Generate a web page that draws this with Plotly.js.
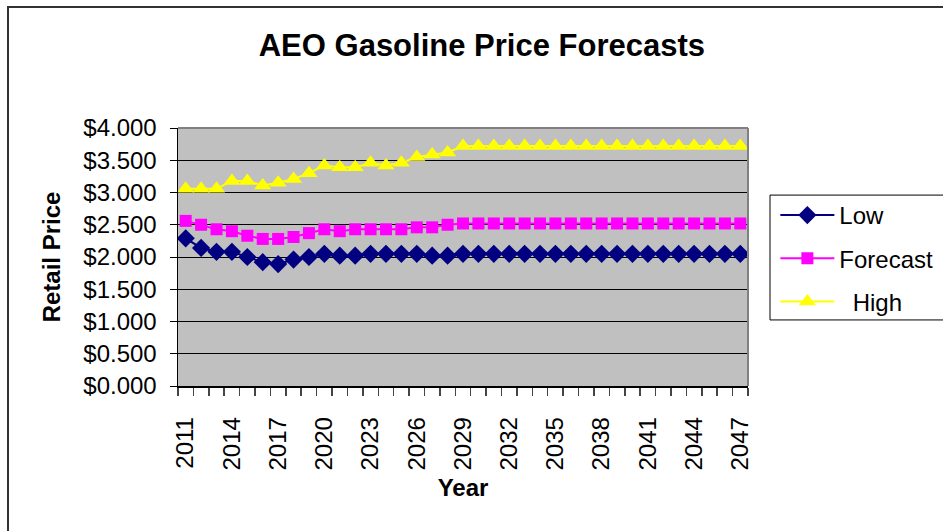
<!DOCTYPE html>
<html>
<head>
<meta charset="utf-8">
<script src="https://cdn.plot.ly/plotly-3.0.1.min.js"></script>
<style>
html,body{margin:0;padding:0;background:#fff;overflow:hidden;}
#wrap{position:relative;width:943px;height:531px;}
#chart{position:absolute;left:0;top:0;width:943px;height:531px;}
#frame{position:absolute;left:7px;top:6px;width:2000px;height:2000px;border-left:2px solid #333;border-top:2px solid #333;pointer-events:none;}
</style>
</head>
<body>
<div id="wrap"><div id="chart"></div><div id="frame"></div></div>
<script>
const years = [2011,2012,2013,2014,2015,2016,2017,2018,2019,2020,2021,2022,2023,2024,2025,2026,2027,2028,2029,
  2030,2031,2032,2033,2034,2035,2036,2037,2038,2039,2040,2041,2042,2043,2044,2045,2046,2047];
const lowPrices = [2.29,2.14,2.08,2.08,2.00,1.92,1.89,1.96,2.00,2.05,2.02,2.02,2.05,2.05,2.05,2.05,2.02,2.02,2.05,
  2.05,2.05,2.05,2.05,2.05,2.05,2.05,2.05,2.05,2.05,2.05,2.05,2.05,2.05,2.05,2.05,2.05,2.05];
const forecastPrices = [2.56,2.50,2.43,2.40,2.33,2.28,2.28,2.31,2.37,2.43,2.40,2.43,2.43,2.43,2.43,2.46,2.46,2.50,2.52,
  2.52,2.52,2.52,2.52,2.52,2.52,2.52,2.52,2.52,2.52,2.52,2.52,2.52,2.52,2.52,2.52,2.52,2.52];
const highPrices = [3.06,3.06,3.06,3.18,3.18,3.11,3.15,3.21,3.30,3.42,3.39,3.39,3.46,3.42,3.46,3.55,3.59,3.62,3.72,
  3.72,3.72,3.72,3.72,3.72,3.72,3.72,3.72,3.72,3.72,3.72,3.72,3.72,3.72,3.72,3.72,3.72,3.72];
const seriesNames = ['Low', 'Forecast', '\u00a0\u00a0High'];

const FONT = 'Arial, "Liberation Sans", sans-serif';

const traces = [
  {x: years, y: lowPrices, name: seriesNames[0], legendgroup: 'a', type: 'scatter', mode: 'lines+markers',
   line: {color: '#000080', width: 2}, marker: {symbol: 'diamond', size: 14, color: '#000080'}},
  {x: years, y: forecastPrices, name: seriesNames[1], legendgroup: 'b', type: 'scatter', mode: 'lines+markers',
   line: {color: '#FF00FF', width: 2}, marker: {symbol: 'square', size: 12, color: '#FF00FF'}},
  {x: years, y: highPrices, name: seriesNames[2], legendgroup: 'c', type: 'scatter', mode: 'lines+markers',
   line: {color: '#FFFF00', width: 2}, marker: {symbol: 'triangle-up', size: 15, color: '#FFFF00'}}
];

const layout = {
  width: 943, height: 531,
  margin: {l: 178, r: 195, t: 128, b: 145, autoexpand: false},
  paper_bgcolor: '#ffffff',
  plot_bgcolor: '#C0C0C0',
  font: {family: FONT, color: '#000'},
  title: {text: '<b>AEO Gasoline Price Forecasts</b>', font: {size: 31, family: FONT, color: '#000'},
          xref: 'container', x: 0.511, xanchor: 'center', yref: 'container', y: 0.915, yanchor: 'middle'},
  xaxis: {
    type: 'linear', range: [2010.5, 2047.5], tickmode: 'linear', tick0: 2011, dtick: 3,
    tickangle: -90, ticks: '', ticklabelstandoff: 20, tickfont: {size: 24, family: FONT},
    showgrid: false, zeroline: false, showline: true, linecolor: '#000', linewidth: 1.5,
    minor: {tickmode: 'linear', tick0: 2010.5, dtick: 1, ticks: 'outside', ticklen: 8, tickwidth: 1.5, tickcolor: '#444', showgrid: false},
    title: {text: '<b>Year</b>', font: {size: 24, family: FONT}, standoff: 9}
  },
  yaxis: {
    range: [0, 4], tickmode: 'linear', tick0: 0, dtick: 0.5, tickformat: '$.3f',
    ticks: 'outside', ticklen: 7, tickwidth: 1, tickcolor: '#000', ticklabelstandoff: 8,
    tickfont: {size: 24, family: FONT},
    showgrid: true, gridcolor: '#000', gridwidth: 1, zeroline: false,
    showline: true, linecolor: '#000', linewidth: 1.5,
    title: {text: '<b>Retail Price</b>', font: {size: 24, family: FONT}, standoff: 16}
  },
  showlegend: true,
  legend: {
    x: 1.048, xanchor: 'left', y: 0.748, yanchor: 'top',
    bgcolor: 'rgba(0,0,0,0)', borderwidth: 0, itemwidth: 54,
    font: {size: 24, family: FONT, color: '#000'}, tracegroupgap: 9, traceorder: 'grouped'
  },
  shapes: [
    {type: 'line', xref: 'paper', yref: 'paper', x0: 0, x1: 1, y0: 1, y1: 1, line: {color: '#808080', width: 2}},
    {type: 'line', xref: 'paper', yref: 'paper', x0: 1, x1: 1, y0: 0, y1: 1, line: {color: '#808080', width: 2}},
    {type: 'rect', xref: 'paper', yref: 'paper', x0: 1.0386, x1: 1.40, y0: 0.256, y1: 0.740,
     line: {color: '#000', width: 1}, fillcolor: 'rgba(0,0,0,0)'}
  ]
};

Plotly.newPlot('chart', traces, layout, {displayModeBar: false, staticPlot: true});
</script>
</body>
</html>
